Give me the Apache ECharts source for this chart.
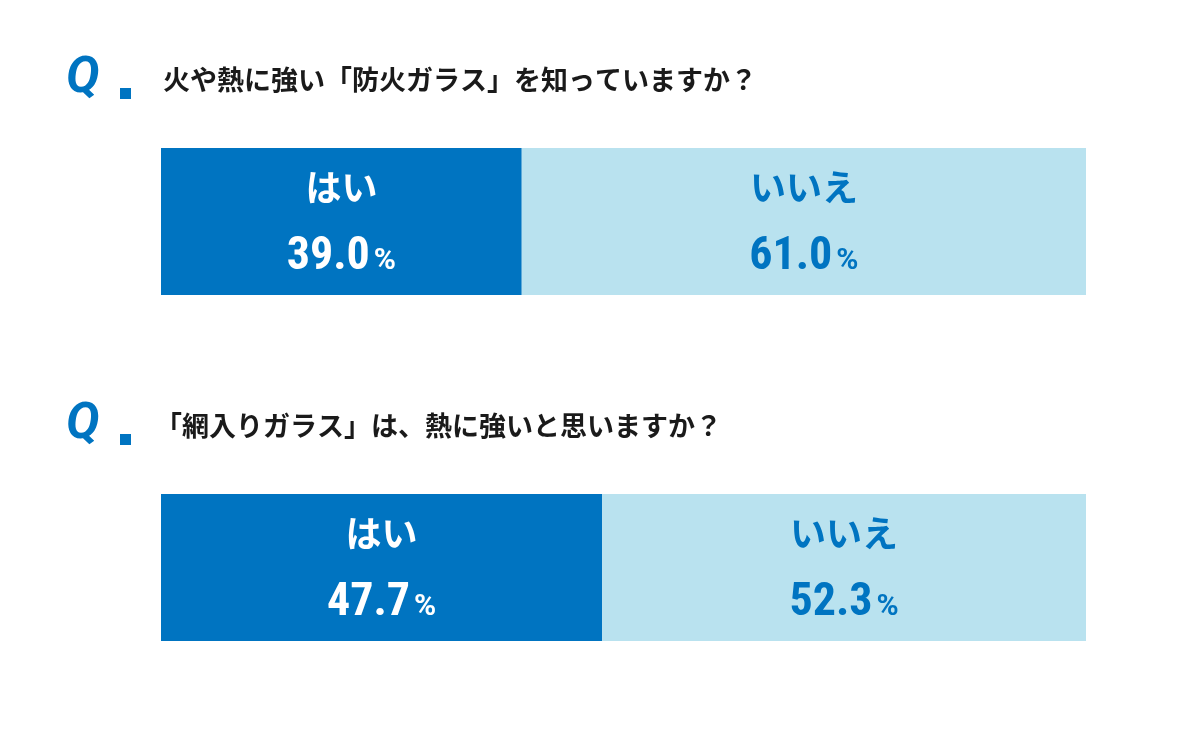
<!DOCTYPE html><html><head><meta charset="utf-8"><script src="https://cdn.jsdelivr.net/npm/echarts@6/dist/echarts.min.js"></script>
<style>body{margin:0;background:#fff}#c{width:1200px;height:744px}</style></head><body><div id="c"></div><script>
const questions=['火や熱に強い「防火ガラス」を知っていますか？','「網入りガラス」は、熱に強いと思いますか？'];
const answers=['はい','いいえ'];
const yesValues=[39.0,47.7];
const noValues=[61.0,52.3];
const DARK='#0074C1',LIGHT='#B9E2EF';
const ch=echarts.init(document.getElementById('c'));
const tops=[148,494];
const grids=tops.map(t=>({left:161,width:925,top:t,height:147}));
const xAxes=grids.map((g,i)=>({gridIndex:i,type:'value',min:0,max:100,show:false}));
const yAxes=grids.map((g,i)=>({gridIndex:i,type:'category',data:[''],show:false}));
function lab(name,col){return {show:true,position:'inside',formatter:p=>'{a|'+name+'}\n{b|'+p.value.toFixed(1)+'}{c|%}',
 rich:{a:{fontSize:36,fontWeight:'bold',color:col,fontFamily:'Noto Sans CJK JP',lineHeight:72,padding:[0,0,8,0]},
 b:{fontSize:46,fontWeight:'bold',color:col,fontFamily:'Roboto Condensed, Roboto',lineHeight:60},
 c:{fontSize:30,fontWeight:'bold',color:col,fontFamily:'Roboto',lineHeight:60,padding:[8,0,0,4]}}};}
const series=[];
[0,1].forEach(i=>{
 series.push({type:'bar',stack:'s'+i,xAxisIndex:i,yAxisIndex:i,barWidth:'100%',data:[yesValues[i]],itemStyle:{color:DARK},label:lab(answers[0],'#fff'),silent:true});
 series.push({type:'bar',stack:'s'+i,xAxisIndex:i,yAxisIndex:i,barWidth:'100%',data:[noValues[i]],itemStyle:{color:LIGHT},label:lab(answers[1],DARK),silent:true});
});
const qy=[82,428];
const graphic=[];
[0,1].forEach(i=>{
 graphic.push({type:'text',left:66,top:qy[i]-28,style:{text:'Q',font:'bold italic 50px Roboto',fill:DARK}});
 graphic.push({type:'rect',shape:{x:120,y:qy[i]+6,width:11,height:11},style:{fill:DARK}});
 graphic.push({type:'text',left:i==0?163:155,top:qy[i]-16,style:{text:questions[i],font:'bold 27px "Noto Sans CJK JP"',fill:'#1a1a1a'}});
});
ch.setOption({animation:false,grid:grids,xAxis:xAxes,yAxis:yAxes,series,graphic});
</script></body></html>
